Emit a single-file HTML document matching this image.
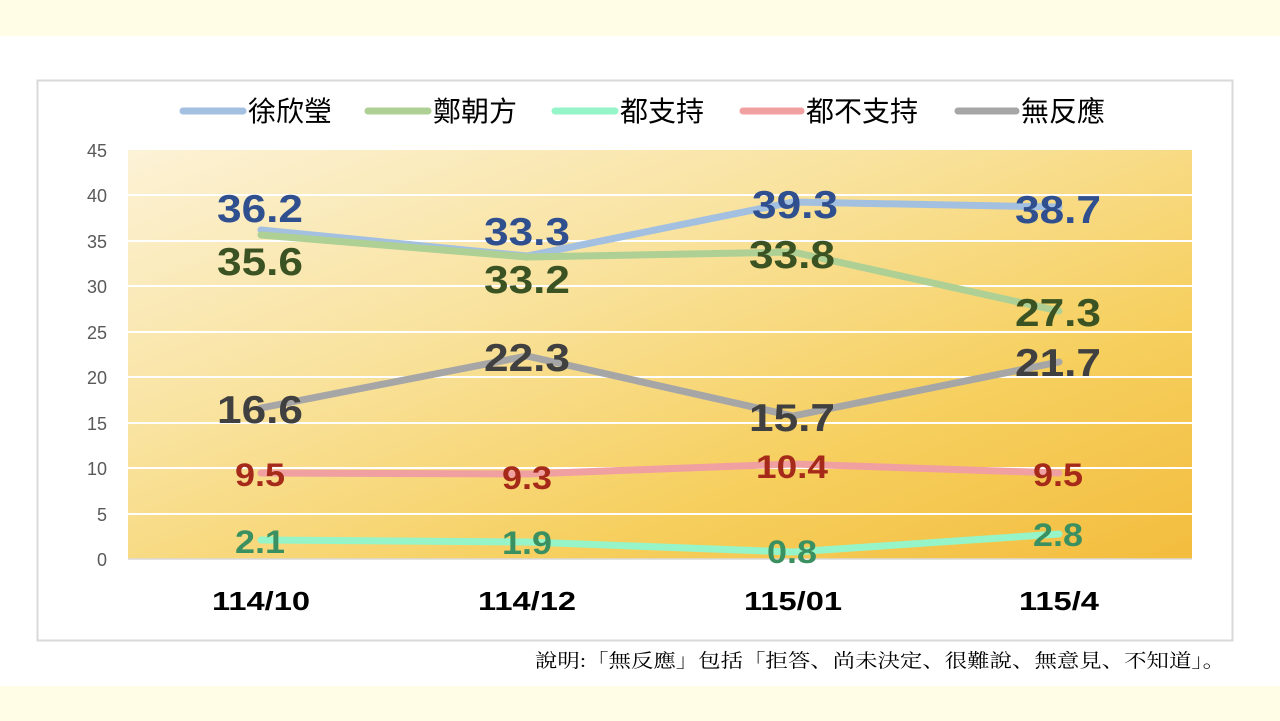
<!DOCTYPE html>
<html><head><meta charset="utf-8"><style>
html,body{margin:0;padding:0;background:#fff;}
body{width:1280px;height:721px;overflow:hidden;position:relative;}
</style></head><body>
<svg width="1280" height="721" xmlns="http://www.w3.org/2000/svg" style="position:absolute;left:0;top:0">
<defs>
<linearGradient id="bg" x1="0" y1="0" x2="1" y2="1">
<stop offset="0" stop-color="#fcf2d6"/>
<stop offset="0.35" stop-color="#f9e3a0"/>
<stop offset="0.7" stop-color="#f6cf5e"/>
<stop offset="1" stop-color="#f3bd3e"/>
</linearGradient>
</defs>
<rect x="0" y="0" width="1280" height="36" fill="#fffde6"/>
<rect x="0" y="686" width="1280" height="35" fill="#fffde6"/>
<rect x="37.5" y="80.5" width="1195" height="560" fill="#fff" stroke="#d9d9d9" stroke-width="2"/>
<rect x="128" y="150" width="1064" height="409" fill="url(#bg)"/>
<g stroke="#fff" stroke-width="2">
<line x1="128" x2="1192" y1="195" y2="195"/><line x1="128" x2="1192" y1="241" y2="241"/>
<line x1="128" x2="1192" y1="286" y2="286"/><line x1="128" x2="1192" y1="332" y2="332"/>
<line x1="128" x2="1192" y1="377" y2="377"/><line x1="128" x2="1192" y1="423" y2="423"/>
<line x1="128" x2="1192" y1="468" y2="468"/><line x1="128" x2="1192" y1="514" y2="514"/>
</g>
<line x1="128" x2="1192" y1="559" y2="559" stroke="#d9d9d9" stroke-width="1.5"/>
<g font-family="Liberation Sans, sans-serif" font-size="18" fill="#595959" text-anchor="end">
<text x="107" y="157">45</text><text x="107" y="202">40</text><text x="107" y="248">35</text>
<text x="107" y="293">30</text><text x="107" y="339">25</text><text x="107" y="384">20</text>
<text x="107" y="430">15</text><text x="107" y="475">10</text><text x="107" y="521">5</text>
<text x="107" y="566">0</text>
</g>
<g font-family="Liberation Sans, sans-serif" font-size="26" font-weight="bold" fill="#000" text-anchor="middle" lengthAdjust="spacingAndGlyphs">
<text x="261" y="610" textLength="98" lengthAdjust="spacingAndGlyphs">114/10</text><text x="527" y="610" textLength="98" lengthAdjust="spacingAndGlyphs">114/12</text>
<text x="793" y="610" textLength="98" lengthAdjust="spacingAndGlyphs">115/01</text><text x="1059" y="610" textLength="80" lengthAdjust="spacingAndGlyphs">115/4</text>
</g>
<g fill="none" stroke-width="7" stroke-linecap="round" stroke-linejoin="round">
<polyline stroke="#a3c0e0" points="261,230 527,256 793,202 1059,207"/>
<polyline stroke="#aed095" points="261,235 527,257 793,252 1059,311"/>
<polyline stroke="#96f5c8" points="261,540 527,542 793,552 1059,534"/>
<polyline stroke="#f0a0a0" points="261,473 527,474 793,464 1059,473"/>
<polyline stroke="#a6a6a6" points="261,408 527,356 793,416 1059,362"/>
</g>
<g font-family="Liberation Sans, sans-serif" font-size="39" font-weight="bold" text-anchor="middle">
<g fill="#2f4f8f"><text x="260" y="222" textLength="86" lengthAdjust="spacingAndGlyphs">36.2</text><text x="527" y="245" textLength="86" lengthAdjust="spacingAndGlyphs">33.3</text><text x="795" y="218" textLength="86" lengthAdjust="spacingAndGlyphs">39.3</text><text x="1058" y="223" textLength="86" lengthAdjust="spacingAndGlyphs">38.7</text></g>
<g fill="#3b5323"><text x="260" y="275" textLength="86" lengthAdjust="spacingAndGlyphs">35.6</text><text x="527" y="293" textLength="86" lengthAdjust="spacingAndGlyphs">33.2</text><text x="792" y="268" textLength="86" lengthAdjust="spacingAndGlyphs">33.8</text><text x="1058" y="326" textLength="86" lengthAdjust="spacingAndGlyphs">27.3</text></g>
<g fill="#404040"><text x="260" y="423" textLength="86" lengthAdjust="spacingAndGlyphs">16.6</text><text x="527" y="371" textLength="86" lengthAdjust="spacingAndGlyphs">22.3</text><text x="792" y="431" textLength="86" lengthAdjust="spacingAndGlyphs">15.7</text><text x="1058" y="376" textLength="86" lengthAdjust="spacingAndGlyphs">21.7</text></g>
</g>
<g font-family="Liberation Sans, sans-serif" font-size="32" font-weight="bold" text-anchor="middle">
<g fill="#a52a1a"><text x="260" y="486" textLength="50" lengthAdjust="spacingAndGlyphs">9.5</text><text x="527" y="489" textLength="50" lengthAdjust="spacingAndGlyphs">9.3</text><text x="792" y="478" textLength="72" lengthAdjust="spacingAndGlyphs">10.4</text><text x="1058" y="486" textLength="50" lengthAdjust="spacingAndGlyphs">9.5</text></g>
<g fill="#3a9060"><text x="260" y="553" textLength="50" lengthAdjust="spacingAndGlyphs">2.1</text><text x="527" y="554" textLength="50" lengthAdjust="spacingAndGlyphs">1.9</text><text x="792" y="563" textLength="50" lengthAdjust="spacingAndGlyphs">0.8</text><text x="1058" y="546" textLength="50" lengthAdjust="spacingAndGlyphs">2.8</text></g>
</g>
<g stroke-width="7" stroke-linecap="round">
<line x1="183" x2="243" y1="111" y2="111" stroke="#a3c0e0"/>
<line x1="368" x2="428" y1="111" y2="111" stroke="#aed095"/>
<line x1="555" x2="615" y1="111" y2="111" stroke="#96f5c8"/>
<line x1="743" x2="801" y1="111" y2="111" stroke="#f0a0a0"/>
<line x1="958" x2="1016" y1="111" y2="111" stroke="#a6a6a6"/>
</g>
<g font-family="Liberation Sans, Noto Sans CJK TC, sans-serif" font-size="28" fill="#000">
<text x="248" y="121">徐欣瑩</text><text x="433" y="121">鄭朝方</text>
<text x="620" y="121">都支持</text><text x="806" y="121">都不支持</text><text x="1021" y="121">無反應</text>
</g>
<text x="535" y="667" font-family="Liberation Serif, Noto Serif CJK SC, serif" font-size="19" fill="#000" textLength="690" lengthAdjust="spacingAndGlyphs">說明:「無反應」包括「拒答、尚未決定、很難說、無意見、不知道」。</text>
</svg>
</body></html>
